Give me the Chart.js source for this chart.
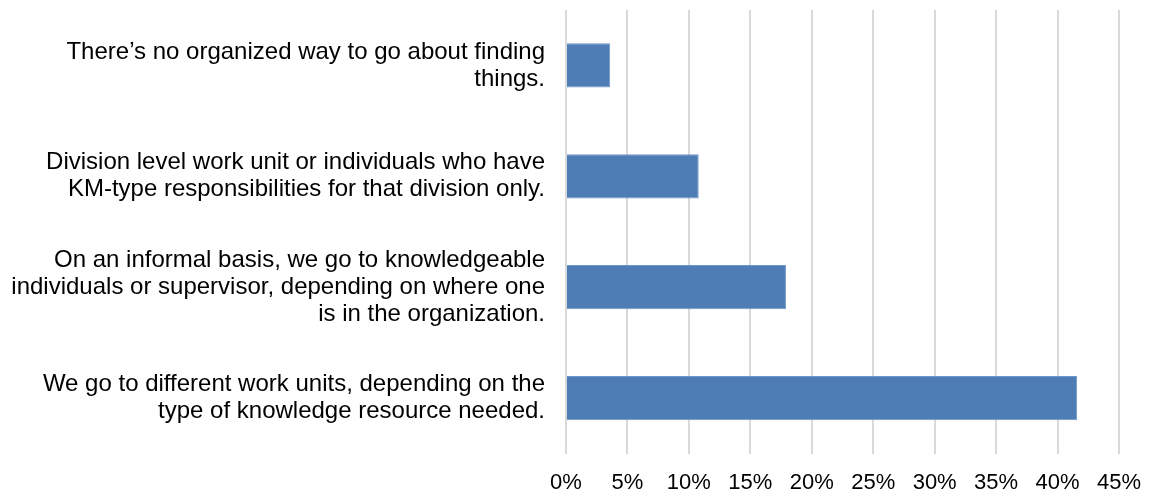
<!DOCTYPE html>
<html>
<head>
<meta charset="utf-8">
<script src="https://cdn.jsdelivr.net/npm/chart.js@4"></script>
<style>
  body { margin: 0; background: #fff; }
  #wrap { width: 1149px; height: 492px; }
</style>
</head>
<body>
<div id="wrap"><canvas id="myChart" width="1149" height="492"></canvas></div>
<script>
const answers = [
  ['There’s no organized way to go about finding', 'things.'],
  ['Division level work unit or individuals who have', 'KM-type responsibilities for that division only.'],
  ['On an informal basis, we go to knowledgeable', 'individuals or supervisor, depending on where one', 'is in the organization.'],
  ['We go to different work units, depending on the', 'type of knowledge resource needed.']
];
const shares = [3.6, 10.8, 17.9, 41.6];
const tickMax = 45;
const tickStep = 5;

const data = {
  labels: answers,
  datasets: [{
    label: 'Share',
    data: shares,
    backgroundColor: '#4e7db6',
    borderColor: '#6f96c8',
    borderWidth: 1,
    barPercentage: 0.4,
    categoryPercentage: 1
  }]
};

const config = {
  type: 'bar',
  data: data,
  options: {
    indexAxis: 'y',
    responsive: false,
    animation: false,
    layout: {
      padding: { left: 0, right: 30, top: 10, bottom: 0 }
    },
    plugins: {
      legend: { display: false },
      tooltip: { enabled: false }
    },
    scales: {
      x: {
        min: 0,
        max: tickMax,
        ticks: {
          stepSize: tickStep,
          padding: 16,
          color: '#000',
          font: { family: '"Liberation Sans", Arial, sans-serif', size: 22 },
          callback: v => v + '%'
        },
        grid: { color: '#d9d9d9', lineWidth: 2, drawTicks: false },
        border: { display: false },
        afterFit: scale => {
          scale.height = 38.5;
          scale.paddingLeft = 0;
          scale.paddingRight = 0;
        }
      },
      y: {
        ticks: {
          padding: 21,
          color: '#000',
          font: { family: '"Liberation Sans", Arial, sans-serif', size: 24, lineHeight: 1.13 }
        },
        grid: { display: false, drawTicks: false },
        border: { display: false },
        afterFit: scale => {
          // multi-line labels would otherwise push the plot area down
          scale.width = 566;
          scale.paddingTop = 0;
          scale.paddingBottom = 0;
        }
      }
    }
  }
};

const myChart = new Chart(document.getElementById('myChart'), config);
</script>
</body>
</html>
